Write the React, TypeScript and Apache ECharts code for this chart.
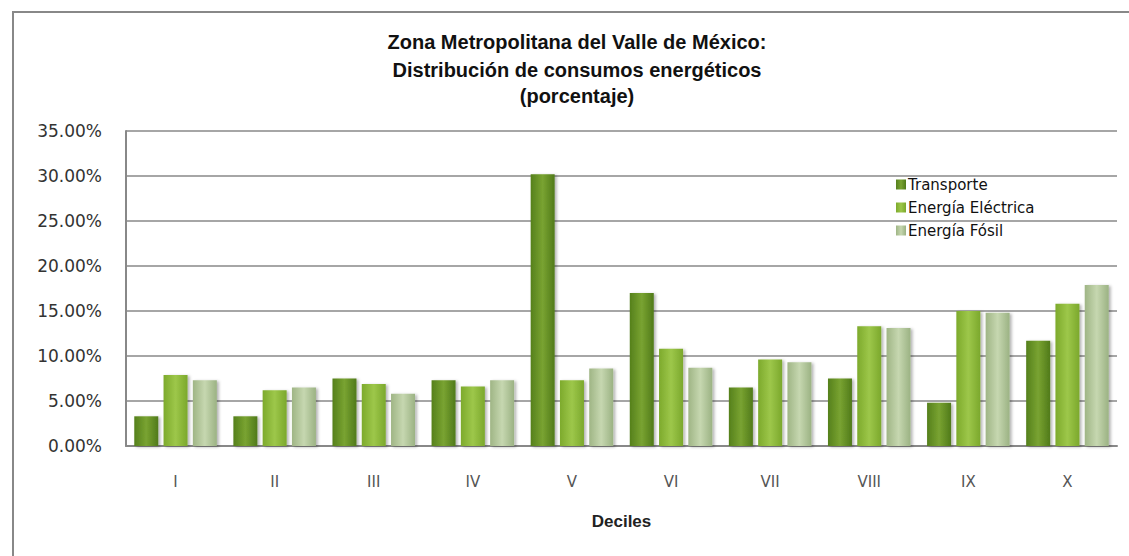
import React, { useEffect, useRef } from "react";
import * as echarts from "echarts";

const categories = ["I", "II", "III", "IV", "V", "VI", "VII", "VIII", "IX", "X"];
const transporte = [3.3, 3.3, 7.5, 7.3, 30.2, 17.0, 6.5, 7.5, 4.8, 11.7];
const electrica = [7.9, 6.2, 6.9, 6.6, 7.3, 10.8, 9.6, 13.3, 15.0, 15.8];
const fosil = [7.3, 6.5, 5.8, 7.3, 8.6, 8.7, 9.3, 13.1, 14.8, 17.9];
const yTicks = { min: 0, max: 35, interval: 5 };
const titleLines = [
  "Zona Metropolitana del Valle de México:",
  "Distribución de consumos energéticos",
  "(porcentaje)",
];

const grad = (a: string, b: string, c: string) =>
  new echarts.graphic.LinearGradient(0, 0, 1, 0, [
    { offset: 0, color: a },
    { offset: 0.5, color: b },
    { offset: 1, color: c },
  ]);

export default function App() {
  const ref = useRef<HTMLDivElement>(null);
  useEffect(() => {
    if (!ref.current) return;
    const chart = echarts.init(ref.current, undefined, { renderer: "svg" });
    const barCommon = {
      type: "bar" as const,
      barWidth: 24,
      barGap: "22%",
    };
    const shadow = {
      shadowBlur: 3,
      shadowColor: "rgba(0,0,0,0.3)",
      shadowOffsetX: 2,
      shadowOffsetY: 1,
    };
    chart.setOption({
      animation: false,
      backgroundColor: "#ffffff",
      grid: { left: 126, right: 12, top: 131, bottom: 110, containLabel: false },
      legend: {
        orient: "vertical",
        left: 891,
        top: 171,
        itemWidth: 10,
        itemHeight: 10,
        itemGap: 6,
        icon: "rect",
        textStyle: { fontFamily: "DejaVu Sans", fontSize: 15, lineHeight: 17, color: "#111", padding: [0, 0, 0, -3] },
        data: ["Transporte", "Energía Eléctrica", "Energía Fósil"],
      },
      xAxis: {
        type: "category",
        data: categories,
        axisLine: { show: true, lineStyle: { color: "#888", width: 2 } },
        axisTick: { show: false },
        axisLabel: { margin: 28, fontFamily: "DejaVu Sans", fontSize: 15, color: "#555" },
        name: "Deciles",
        nameLocation: "middle",
        nameGap: 67,
        nameTextStyle: { fontFamily: "Liberation Sans", fontWeight: "bold", fontSize: 17, color: "#222" },
      },
      yAxis: {
        type: "value",
        min: yTicks.min,
        max: yTicks.max,
        interval: yTicks.interval,
        axisLine: { show: true, lineStyle: { color: "#888", width: 2 } },
        axisTick: { show: false },
        splitLine: { show: true, lineStyle: { color: "#888", width: 1.5 } },
        axisLabel: {
          margin: 24,
          fontFamily: "DejaVu Sans",
          fontSize: 17,
          color: "#333",
          formatter: (v: number) => v.toFixed(2) + "%",
        },
      },
      series: [
        {
          ...barCommon,
          name: "Transporte",
          data: transporte,
          itemStyle: { color: grad("#55801c", "#79a331", "#507a1a"), ...shadow },
        },
        {
          ...barCommon,
          name: "Energía Eléctrica",
          data: electrica,
          itemStyle: { color: grad("#7daa2c", "#9dc74a", "#7ba82c"), ...shadow },
        },
        {
          ...barCommon,
          name: "Energía Fósil",
          data: fosil,
          itemStyle: { color: grad("#9fb585", "#c6d7b0", "#9bb283"), ...shadow },
        },
      ],
      graphic: [
        {
          type: "rect",
          shape: { x: 13, y: 12, width: 1300, height: 700 },
          style: { fill: "none", stroke: "#888", lineWidth: 2 },
          silent: true,
        },
        ...titleLines.map((t, i) => ({
          type: "text",
          x: 577,
          y: [42, 70, 96][i],
          style: {
            text: t,
            textAlign: "center",
            textVerticalAlign: "middle",
            fontFamily: "Liberation Sans",
            fontWeight: "bold",
            fontSize: 20,
            fill: "#111",
          },
        })),
      ],
    });
    return () => chart.dispose();
  }, []);
  return (
    <div
      ref={ref}
      style={{ position: "fixed", left: 0, top: 0, width: 1129, height: 556 }}
    />
  );
}
